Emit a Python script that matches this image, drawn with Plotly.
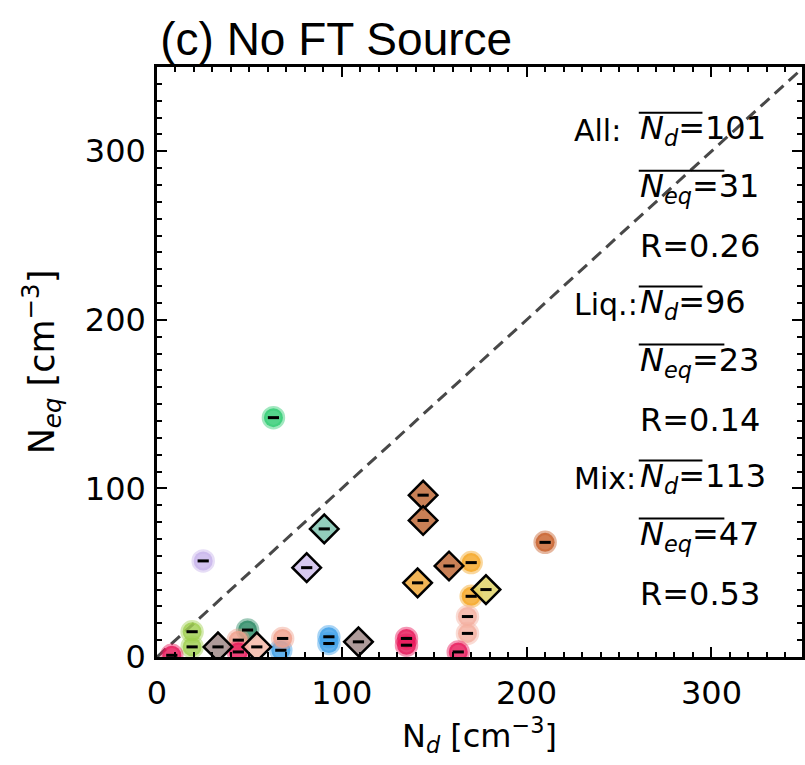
import plotly.graph_objects as go

# ---- data ----
liq_x = [63, 25, 210, 170, 170, 168, 168, 135, 135, 163, 93, 93, 67, 68, 49, 44, 44, 19, 19, 8]
liq_y = [142, 57, 68, 56, 36, 24, 14, 11, 7, 3, 12, 8, 4, 11, 16, 10, 3, 15, 6, 1]
liq_colors = ["46,204,113", "200,180,235", "200,96,42", "245,166,35", "245,166,35",
              "244,176,160", "244,176,160", "232,25,90", "232,25,90", "232,25,90",
              "63,160,232", "63,160,232", "63,160,232", "240,160,140", "42,138,100",
              "240,160,140", "232,25,90", "160,208,80", "160,208,80", "232,25,90"]

mix_x = [144, 144, 158, 141, 178, 109, 90.5, 81, 33, 54]
mix_y = [96, 81, 54, 44, 40, 9, 76, 53, 6, 6]
mix_colors = ["192,106,56", "192,106,56", "192,106,56", "240,168,56", "224,212,104",
              "160,138,136", "128,196,176", "208,192,236", "160,138,136", "244,184,168"]

one_to_one = [0, 350]

stats_labels = ["All:", "", "", "Liq.:", "", "", "Mix:", "", ""]
stats_values = ["<i>N<sub>d</sub></i>=101", "<i>N<sub>eq</sub></i>=31", "R=0.26",
                "<i>N<sub>d</sub></i>=96", "<i>N<sub>eq</sub></i>=23", "R=0.14",
                "<i>N<sub>d</sub></i>=113", "<i>N<sub>eq</sub></i>=47", "R=0.53"]
# overline length (px) above the mean symbols; 0 = none
overline_px = [64, 86, 0, 64, 86, 0, 64, 86, 0]

FONT = "DejaVu Sans"
PLOT_L, PLOT_W, PLOT_T, PLOT_H = 157, 648, 67, 590

fig = go.Figure()

fig.add_trace(go.Scatter(x=one_to_one, y=one_to_one, mode="lines",
                         line=dict(color="#484848", width=3, dash="12px,7px"),
                         hoverinfo="skip", showlegend=False))

fig.add_trace(go.Scatter(
    x=liq_x, y=liq_y, mode="markers", showlegend=False,
    marker=dict(symbol="circle", size=19,
                color=[f"rgba({c},0.82)" for c in liq_colors],
                line=dict(color=[f"rgba({c},0.45)" for c in liq_colors], width=4.5))))

fig.add_trace(go.Scatter(
    x=mix_x, y=mix_y, mode="markers", showlegend=False,
    marker=dict(symbol="diamond", size=22,
                color=[f"rgba({c},0.85)" for c in mix_colors],
                line=dict(color="black", width=2.5))))

fig.add_trace(go.Scatter(
    x=liq_x + mix_x, y=liq_y + mix_y, mode="markers", showlegend=False,
    marker=dict(symbol="line-ew", size=8, line=dict(color="black", width=3))))

axis_common = dict(
    showline=True, linecolor="black", linewidth=2.5, mirror="ticks",
    ticks="inside", ticklen=10, tickwidth=2, tickcolor="black",
    showgrid=False, zeroline=False,
    tickfont=dict(family=FONT, size=32, color="black"),
    minor=dict(ticks="inside", ticklen=5, tickwidth=1.5, dtick=10, tickcolor="black", showgrid=False),
)

fig.update_xaxes(range=[0, 349], dtick=100, tick0=0, ticklabelstandoff=6,
                 title=dict(text="N<sub><i>d</i></sub> [cm<sup>−3</sup>]",
                            font=dict(family=FONT, size=32, color="black"), standoff=12),
                 **axis_common)
fig.update_yaxes(range=[0, 350], dtick=100, tick0=0, ticklabelstandoff=2,
                 title=dict(text="N<sub><i>eq</i></sub> [cm<sup>−3</sup>]",
                            font=dict(family=FONT, size=35, color="black"), standoff=20),
                 **axis_common)

row_y0 = 0.893
row_step = 0.0983
val_x_px = 640
lab_x_px = 574
shapes = []
for i, (lab, val, ol) in enumerate(zip(stats_labels, stats_values, overline_px)):
    yy = row_y0 - i * row_step
    if lab:
        fig.add_annotation(x=(lab_x_px - PLOT_L) / PLOT_W, y=yy, xref="paper", yref="paper",
                           text=lab, showarrow=False, xanchor="left", yanchor="middle",
                           font=dict(family=FONT, size=30, color="black"))
    fig.add_annotation(x=(val_x_px - PLOT_L) / PLOT_W, y=yy, xref="paper", yref="paper",
                       text=val, showarrow=False, xanchor="left", yanchor="middle",
                       font=dict(family=FONT, size=32, color="black"))
    if ol:
        oy = yy + 17.5 / PLOT_H
        shapes.append(dict(type="line", xref="paper", yref="paper",
                           x0=(val_x_px + 1 - PLOT_L) / PLOT_W,
                           x1=(val_x_px + 1 + ol - PLOT_L) / PLOT_W,
                           y0=oy, y1=oy, line=dict(color="black", width=2)))

fig.update_layout(
    width=805, height=765,
    margin=dict(l=PLOT_L, r=0, t=PLOT_T, b=765 - PLOT_T - PLOT_H),
    paper_bgcolor="white", plot_bgcolor="white",
    shapes=shapes,
    title=dict(text="(c) No FT Source", x=0.005, xref="paper", xanchor="left",
               y=1 - 39 / 765, yref="container", yanchor="middle",
               font=dict(family="Liberation Sans", size=46, color="black")),
)

fig.write_html("out.html")
